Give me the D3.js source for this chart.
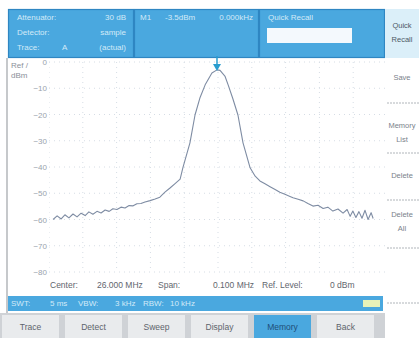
<!DOCTYPE html>
<html>
<head>
<meta charset="utf-8">
<script src="https://cdn.jsdelivr.net/npm/d3@7"></script>
<style>
  html, body { margin: 0; padding: 0; background: #fff; }
  svg { display: block; font-family: 'Liberation Sans', Arial, sans-serif; }
</style>
</head>
<body>
<svg id="chart"></svg>
<script>
// trace: offset from center frequency (kHz) and level (dBm)
const freqOffsetKHz = [
  -48.8, -47.6, -46.4, -45.3, -44.1, -42.9, -41.7, -40.5, -39.3, -38.2, -37.0, -35.8,
  -34.6, -33.4, -32.2, -31.1, -29.9, -28.7, -27.5, -26.3, -25.1, -24.0, -22.8, -21.6,
  -20.1, -18.6, -17.2, -15.7, -14.2, -12.7, -11.2, -10.4, -8.3, -6.8, -5.3, -3.8,
  -1.8, -0.3, 0.6, 2.1, 3.0, 4.4, 5.9, 7.4, 9.5, 11.0, 12.4, 13.9, 15.4, 16.9,
  18.3, 19.8, 21.3, 22.2, 23.7, 25.2, 26.6, 28.1, 29.6, 31.1, 32.5, 34.0, 35.5,
  37.0, 38.2, 39.1, 39.9, 40.8, 41.7, 42.6, 43.5, 44.4, 45.3, 45.9
];
const levelDbm = [
  -60.0, -58.6, -59.8, -58.2, -59.4, -57.9, -59.0, -57.6, -58.5, -57.1, -58.0, -56.9,
  -57.5, -56.4, -56.9, -55.9, -56.2, -55.3, -55.6, -54.7, -54.8, -54.0, -53.9, -53.3,
  -52.8, -52.2, -51.5, -49.6, -48.0, -46.3, -44.6, -40.3, -30.8, -20.2, -13.5, -8.7,
  -4.2, -3.0, -3.2, -5.5, -8.7, -14.0, -20.2, -30.8, -40.3, -43.5, -45.3, -46.4, -47.5, -48.6,
  -49.6, -50.4, -51.2, -51.7, -52.3, -52.9, -53.9, -54.9, -54.6, -55.8, -55.3, -56.8, -56.0,
  -57.6, -56.2, -58.8, -56.8, -59.2, -57.0, -59.5, -56.5, -60.0, -57.4, -59.6
];
const markerKHz = -0.3;

const yTicks = [0, -10, -20, -30, -40, -50, -60, -70, -80];
const xGridKHz = [-50, -40, -30, -20, -10, 0, 10, 20, 30, 40, 50];

const headerLeft = [['Attenuator:', '30 dB'], ['Detector:', 'sample'], ['Trace:', '(actual)']];
const markerReadout = ['M1', '-3.5dBm', '0.000kHz'];
const footerInfo = [['Center:', 50], ['26.000 MHz', 97], ['Span:', 158], ['0.100 MHz', 213], ['Ref. Level:', 262], ['0 dBm', 330]];
const statusInfo = [['SWT:', 11], ['5 ms', 50], ['VBW:', 78], ['3 kHz', 115], ['RBW:', 143], ['10 kHz', 170]];
const softkeys = [['Save'], ['Memory', 'List'], ['Delete'], ['Delete', 'All']];
const buttons = ['Trace', 'Detect', 'Sweep', 'Display', 'Memory', 'Back'];
const activeButton = 'Memory';

const W = 419, H = 338;
const blue = '#4aa8df', blueDark = '#2f86c2', paleText = '#d3eaf8';
const plot = { left: 49, right: 387, top: 62, bottom: 272 };

const svg = d3.select('#chart').attr('width', W).attr('height', H).attr('viewBox', [0, 0, W, H]);

const x = d3.scaleLinear([-50, 50], [plot.left, plot.right]);
const y = d3.scaleLinear([0, -80], [plot.top, plot.bottom]);

// screen edge
svg.append('line').attr('x1', 7).attr('x2', 7).attr('y1', 58).attr('y2', H)
  .attr('stroke', '#a0a4a8').attr('stroke-width', 1.2);

// plot clip
svg.append('defs').append('clipPath').attr('id', 'plot_clip')
  .append('rect').attr('x', plot.left).attr('y', 58).attr('width', 385 - plot.left).attr('height', 220);
const plotG = svg.append('g').attr('clip-path', 'url(#plot_clip)');

// grid
plotG.append('g').selectAll('line').data(yTicks).join('line')
  .attr('x1', plot.left).attr('x2', 385)
  .attr('y1', (d) => y(d)).attr('y2', (d) => y(d))
  .attr('stroke', '#d6dde5').attr('stroke-dasharray', '1,4');
plotG.append('g').selectAll('line').data(xGridKHz).join('line')
  .attr('x1', (d) => x(d)).attr('x2', (d) => x(d))
  .attr('y1', plot.top).attr('y2', plot.bottom)
  .attr('stroke', '#d6dde5').attr('stroke-dasharray', '1,4');

// y axis labels
svg.append('g')
  .attr('transform', `translate(${plot.left + 1},0)`)
  .call(d3.axisLeft(y).tickValues(yTicks).tickSize(0).tickPadding(3).tickFormat(d3.format('d')))
  .call((g) => g.select('.domain').remove())
  .call((g) => g.selectAll('text').attr('fill', '#9aa3ad').style('font-size', '8px')
    .style('font-family', "'Liberation Sans', Arial, sans-serif"));

svg.append('text').attr('x', 11).attr('y', 68).text('Ref /').attr('fill', '#8a9099').style('font-size', '8px');
svg.append('text').attr('x', 11).attr('y', 78).text('dBm').attr('fill', '#8a9099').style('font-size', '8px');

// trace
const line = d3.line()
  .x((i) => x(freqOffsetKHz[i]))
  .y((i) => y(levelDbm[i]));
plotG.append('path')
  .attr('fill', 'none')
  .attr('stroke', '#7e8ca3')
  .attr('stroke-width', 1.1)
  .attr('stroke-linejoin', 'round')
  .attr('d', line(d3.range(freqOffsetKHz.length)));

// header
svg.append('rect').attr('x', 8).attr('y', 9).attr('width', 377).attr('height', 49).attr('fill', blue);
[[8, 126], [134, 125], [259, 126]].forEach(([px, pw]) => {
  svg.append('rect').attr('x', px + 0.5).attr('y', 9.5).attr('width', pw - 1).attr('height', 48)
    .attr('fill', 'none').attr('stroke', blueDark).attr('stroke-width', 1.2);
});
const hdr = svg.append('g').style('font-size', '8px').attr('fill', paleText);
headerLeft.forEach(([k, v], i) => {
  hdr.append('text').attr('x', 17).attr('y', 20 + i * 15).text(k);
  hdr.append('text').attr('x', 126).attr('y', 20 + i * 15).attr('text-anchor', 'end').text(v);
});
hdr.append('text').attr('x', 62).attr('y', 50).text('A');
hdr.append('text').attr('x', 140).attr('y', 20).text(markerReadout[0]);
hdr.append('text').attr('x', 165).attr('y', 20).text(markerReadout[1]);
hdr.append('text').attr('x', 253).attr('y', 20).attr('text-anchor', 'end').text(markerReadout[2]);
hdr.append('text').attr('x', 268).attr('y', 20).text('Quick Recall');
svg.append('rect').attr('x', 267).attr('y', 28).attr('width', 85).attr('height', 15).attr('fill', '#f4f9fd');

// marker
const mx = x(markerKHz);
svg.append('line').attr('x1', mx).attr('x2', mx).attr('y1', 56).attr('y2', 66)
  .attr('stroke', '#2a9dcf').attr('stroke-width', 1.5);
svg.append('path').attr('d', `M${mx - 4},64L${mx + 4},64L${mx},71Z`).attr('fill', '#2a9dcf');

// right softkeys
svg.append('rect').attr('x', 385).attr('y', 9).attr('width', 34).attr('height', 49).attr('fill', '#dbeff9');
svg.append('text').attr('x', 402).attr('y', 28).attr('text-anchor', 'middle').text('Quick').attr('fill', '#4d5966').style('font-size', '7.5px');
svg.append('text').attr('x', 402).attr('y', 42).attr('text-anchor', 'middle').text('Recall').attr('fill', '#4d5966').style('font-size', '7.5px');
const skY = [[80], [128, 142], [178], [217, 231]];
softkeys.forEach((lines, i) => {
  lines.forEach((t, j) => {
    svg.append('text').attr('x', 402).attr('y', skY[i][j]).attr('text-anchor', 'middle')
      .text(t).attr('fill', '#7a828b').style('font-size', '7.5px');
  });
});
[103, 153, 200, 248, 303].forEach((sy) => {
  svg.append('line').attr('x1', 387).attr('x2', W).attr('y1', sy).attr('y2', sy)
    .attr('stroke', '#b0b5ba').attr('stroke-dasharray', '2,1');
});

// footer info line
footerInfo.forEach(([t, fx]) => {
  svg.append('text').attr('x', fx).attr('y', 288).text(t).attr('fill', '#5f666e').style('font-size', '8.5px');
});

// status bar
svg.append('rect').attr('x', 8).attr('y', 296).attr('width', 375).attr('height', 15).attr('fill', blue);
statusInfo.forEach(([t, sx]) => {
  svg.append('text').attr('x', sx).attr('y', 306).text(t).attr('fill', paleText).style('font-size', '8px');
});
svg.append('rect').attr('x', 363).attr('y', 300).attr('width', 17).attr('height', 7).attr('fill', '#e8f2b8');

// bottom buttons
svg.append('rect').attr('x', 0).attr('y', 313).attr('width', 385).attr('height', 25).attr('fill', '#cfd2d6');
const bx = d3.scaleBand(buttons, [-1, 377]);
const btn = svg.append('g').selectAll('g').data(buttons).join('g')
  .attr('transform', (d) => `translate(${bx(d)},315)`);
btn.append('rect').attr('x', 3).attr('width', bx.bandwidth() - 6).attr('height', 23)
  .attr('fill', (d) => (d === activeButton ? blue : '#e9ebed'));
btn.append('text').attr('x', bx.bandwidth() / 2).attr('y', 15).attr('text-anchor', 'middle')
  .attr('fill', (d) => (d === activeButton ? '#1f4e78' : '#5d646c'))
  .style('font-size', '8.5px').text((d) => d);
</script>
</body>
</html>
